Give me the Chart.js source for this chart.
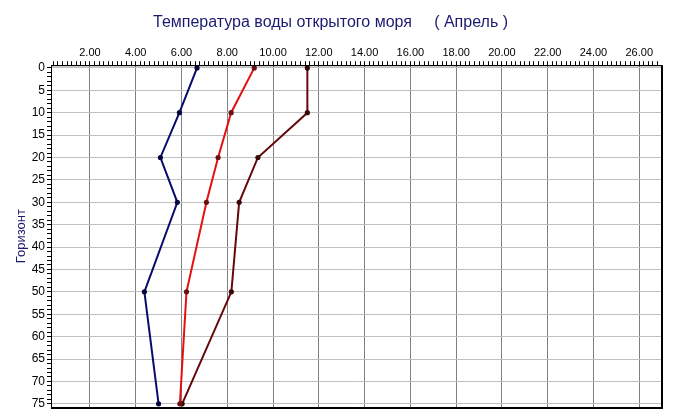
<!DOCTYPE html>
<html>
<head>
<meta charset="utf-8">
<script src="https://cdn.jsdelivr.net/npm/chart.js@4.4.1/dist/chart.umd.min.js"></script>
<style>
  body { margin: 0; background: #fff; }
</style>
</head>
<body>
<canvas id="tempChart" width="675" height="419"></canvas>
<script>
// Data (depth in m, temperature in °C)
const depths = [0, 10, 20, 30, 50, 75];
const tempNavy = [6.68, 5.91, 5.08, 5.82, 4.38, 5.00];
const tempRed = [9.18, 8.17, 7.60, 7.09, 6.22, 5.93];
const tempMaroon = [11.50, 11.50, 9.34, 8.52, 8.18, 6.03];
const xTickLabels = [2, 4, 6, 8, 10, 12, 14, 16, 18, 20, 22, 24, 26];
const yTickLabels = [0, 5, 10, 15, 20, 25, 30, 35, 40, 45, 50, 55, 60, 65, 70, 75];

function toPoints(temps) {
  return depths.map((d, i) => ({ x: temps[i], y: d }));
}

function makeSet(label, temps, color, pointColor) {
  return {
    label,
    data: toPoints(temps),
    showLine: true,
    borderColor: color,
    borderWidth: 2,
    pointRadius: 1.6,
    pointBackgroundColor: pointColor,
    pointBorderColor: pointColor,
    tension: 0,
  };
}

// minor ticks: every 0.2 on x, every 1 on y
function xMinor(scale) {
  const out = [];
  for (let i = 2; i <= 134; i++) out.push({ value: i / 5 });
  scale.ticks = out;
}
function yMinor(scale) {
  const out = [];
  for (let i = 0; i <= 75; i++) out.push({ value: i });
  scale.ticks = out;
}
const isMajorX = (v) => xTickLabels.some((t) => Math.abs(t - v) < 1e-6);
const isMajorY = (v) => yTickLabels.includes(Math.round(v * 1000) / 1000);

// frame around the plot
const framePlugin = {
  id: 'frame',
  afterDraw(chart) {
    const { ctx, chartArea: a } = chart;
    ctx.save();
    ctx.strokeStyle = '#000';
    ctx.lineWidth = 1;
    ctx.strokeRect(a.left + 0.5, a.top + 0.5, a.right - a.left, a.bottom - a.top);
    ctx.lineWidth = 2;
    ctx.beginPath();
    ctx.moveTo(a.right + 1, a.top);
    ctx.lineTo(a.right + 1, a.bottom + 1);
    ctx.lineTo(a.left, a.bottom + 1);
    ctx.stroke();
    ctx.restore();
  },
};

const ctx = document.getElementById('tempChart').getContext('2d');
const tempChart = new Chart(ctx, {
  type: 'scatter',
  data: {
    datasets: [
      makeSet('1', tempNavy, '#0a0a6a', '#050540'),
      makeSet('2', tempRed, '#e41010', '#6a1010'),
      makeSet('3', tempMaroon, '#640808', '#3a0505'),
    ],
  },
  options: {
    responsive: false,
    animation: false,
    layout: { padding: { left: 0, right: 14, top: 0, bottom: 12 } },
    plugins: {
      legend: { display: false },
      tooltip: { enabled: false },
      title: {
        display: true,
        text: 'Температура воды открытого моря     ( Апрель )',
        color: '#1a1a70',
        font: { family: 'Liberation Sans, Arial', size: 16, weight: 'normal' },
        padding: { top: 13, bottom: 7 },
      },
    },
    scales: {
      x: {
        type: 'linear',
        position: 'top',
        min: 0.3,
        max: 26.95,
        afterBuildTicks: xMinor,
        afterFit: (s) => { s.height = 26; },
        ticks: {
          autoSkip: false,
          maxRotation: 0,
          padding: 2,
          color: '#000',
          font: { family: 'Liberation Sans, Arial', size: 11 },
          callback: (v) => (isMajorX(v) ? Number(v).toFixed(2) : ''),
        },
        grid: {
          color: (c) => (c.tick && isMajorX(c.tick.value) ? '#808080' : 'rgba(0,0,0,0)'),
          tickColor: '#000',
          tickLength: 4,
          lineWidth: 1,
        },
        border: { display: true, color: '#000' },
      },
      y: {
        type: 'linear',
        reverse: true,
        min: -0.6,
        max: 75.7,
        afterBuildTicks: yMinor,
        afterFit: (s) => { s.width = 51; },
        title: {
          display: true,
          text: 'Горизонт',
          color: '#1a1a70',
          font: { family: 'Liberation Sans, Arial', size: 13 },
          padding: { top: 14, bottom: 0 },
        },
        ticks: {
          autoSkip: false,
          padding: 2,
          color: '#000',
          font: { family: 'Liberation Sans, Arial', size: 12 },
          callback: (v) => (isMajorY(v) ? String(v) : ''),
        },
        grid: {
          color: (c) => (c.tick && isMajorY(c.tick.value) ? '#c0c0c0' : 'rgba(0,0,0,0)'),
          tickColor: '#000',
          tickLength: 4,
          lineWidth: 1,
        },
        border: { display: true, color: '#000' },
      },
    },
  },
  plugins: [framePlugin],
});
</script>
</body>
</html>
